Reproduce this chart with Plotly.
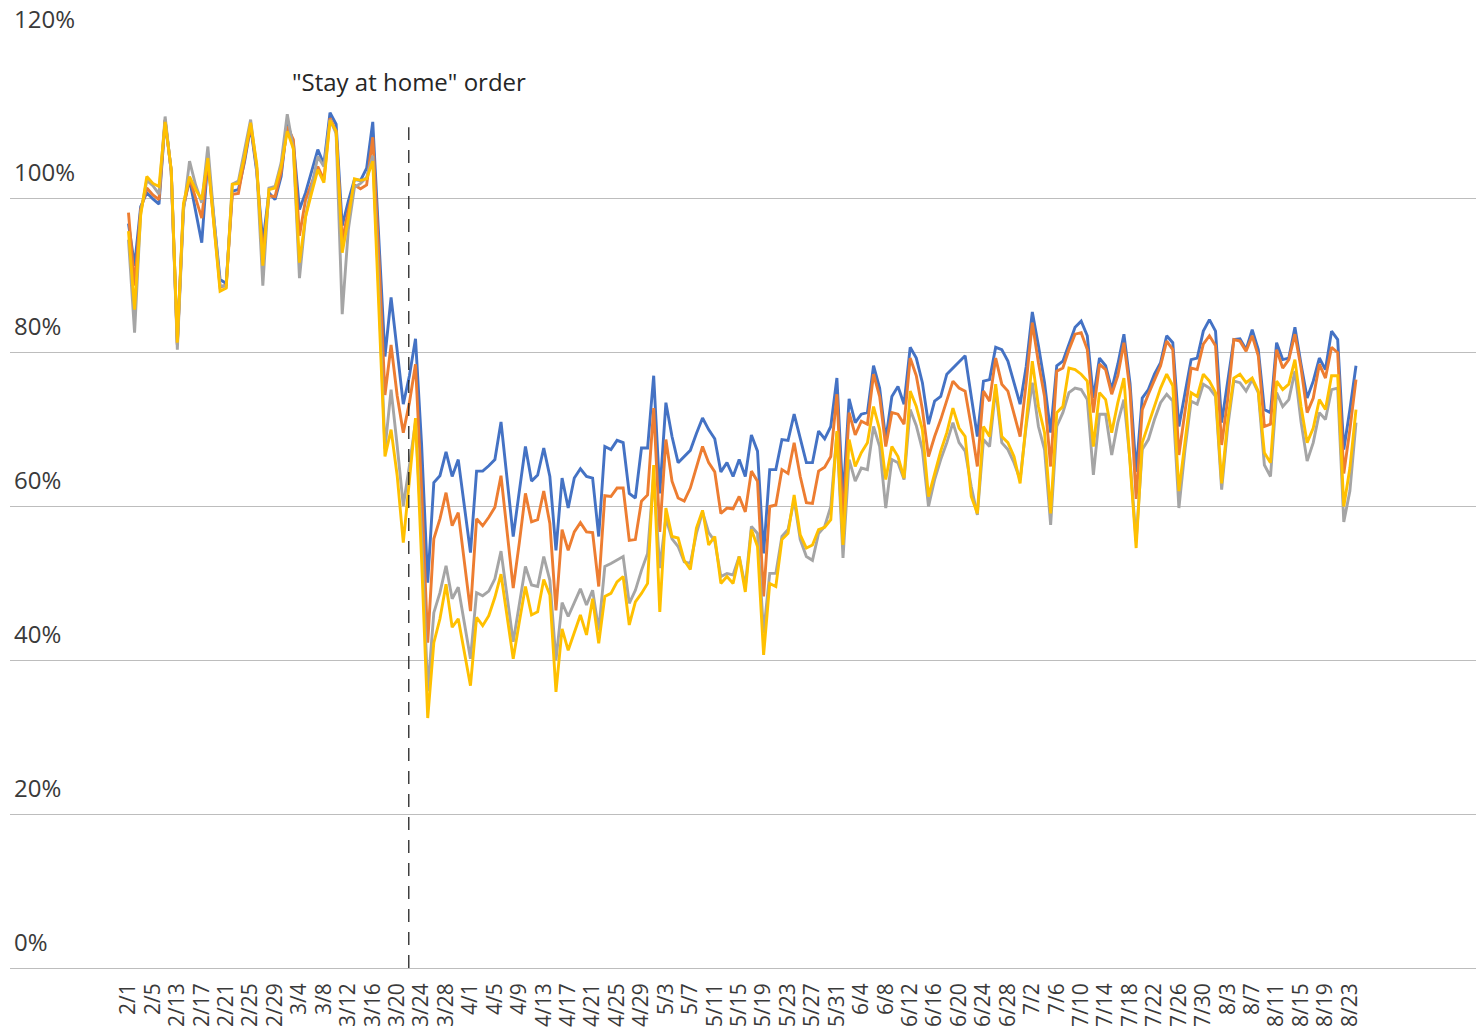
import pandas as pd
import plotly.graph_objects as go

# daily categories; the source has a gap between 2/5 and 2/10
DAYS = list(pd.date_range("2020-02-01", "2020-02-05")) + list(pd.date_range("2020-02-10", "2020-08-24"))
DATES = [f"{d.month}/{d.day}" for d in DAYS]
TICK_LABELS = DATES[::4]
Y_TICKS = [0, 20, 40, 60, 80, 100, 120]

ORDER_LABEL = '"Stay at home" order'
ORDER_POS = 45.9  # category index of the dashed marker

BLUE = [
    96.8, 91.3, 99.0, 100.8, 100.0, 99.3, 110.2, 103.6, 81.2, 99.0,
    102.5, 98.5, 94.3, 105.2, 97.5, 89.5, 89.0, 101.0, 101.2, 104.8,
    109.4, 103.5, 94.3, 100.8, 99.9, 102.9, 109.9, 107.3, 98.6, 100.8,
    103.6, 106.4, 104.5, 111.2, 109.7, 96.5, 99.7, 102.5, 102.4, 104.0,
    110.0, 95.5, 79.5, 87.2, 80.0, 73.3, 77.0, 81.8, 68.0, 50.1,
    63.1, 64.0, 67.1, 63.9, 66.1, 60.0, 54.0, 64.6, 64.6, 65.3,
    66.1, 71.0, 63.5, 56.1, 62.0, 67.8, 63.3, 64.1, 67.6, 63.9,
    54.3, 63.7, 59.8, 63.7, 64.9, 63.9, 63.7, 56.1, 67.8, 67.4,
    68.6, 68.3, 61.7, 61.1, 67.6, 67.6, 77.0, 61.7, 73.5, 69.1,
    65.7, 66.5, 67.3, 69.5, 71.5, 70.0, 68.8, 64.5, 65.7, 63.9,
    66.1, 63.9, 69.3, 67.2, 53.9, 64.8, 64.8, 68.7, 68.6, 72.0,
    68.7, 65.7, 65.7, 69.8, 68.8, 70.4, 76.7, 61.0, 74.0, 70.9,
    72.0, 72.2, 78.3, 75.4, 68.7, 74.3, 75.6, 73.3, 80.7, 79.3,
    76.1, 70.7, 73.7, 74.3, 77.2, 78.0, 78.7, 79.6, 74.3, 69.1,
    76.3, 76.5, 80.7, 80.4, 78.9, 76.1, 73.3, 78.2, 85.3, 80.9,
    76.1, 69.6, 78.3, 78.9, 81.1, 83.3, 84.1, 82.2, 74.1, 79.3,
    78.3, 75.2, 78.5, 82.4, 76.0, 64.5, 74.1, 75.2, 77.2, 78.7,
    82.2, 81.3, 70.4, 75.0, 79.1, 79.3, 82.8, 84.3, 82.8, 70.9,
    76.1, 81.7, 81.8, 80.4, 83.0, 80.4, 72.6, 72.2, 81.3, 79.1,
    79.3, 83.3, 78.5, 74.1, 76.3, 79.3, 77.8, 82.8, 81.7, 67.4,
    72.6, 78.3,
]

ORANGE = [
    98.2, 88.7, 98.6, 101.4, 100.5, 99.9, 110.3, 103.6, 81.0, 98.8,
    102.7, 100.0, 97.5, 105.0, 97.0, 88.5, 88.8, 100.6, 100.7, 105.0,
    109.6, 104.0, 92.6, 100.4, 100.3, 103.5, 109.4, 107.7, 95.2, 99.9,
    102.0, 104.2, 102.5, 110.5, 108.8, 94.5, 98.5, 101.8, 101.3, 101.8,
    108.0, 92.5, 74.5, 81.0, 74.4, 69.6, 73.5, 78.5, 62.0, 42.3,
    55.8, 58.4, 61.8, 57.5, 59.2, 53.0, 46.4, 58.4, 57.5, 58.6,
    59.9, 64.0, 57.0, 49.4, 55.3, 61.7, 58.0, 58.3, 62.0, 57.8,
    46.5, 57.0, 54.3, 56.7, 57.9, 56.7, 56.6, 49.6, 61.4, 61.3,
    62.4, 62.4, 55.6, 55.7, 60.7, 61.5, 72.8, 56.7, 68.7, 63.3,
    61.1, 60.7, 62.4, 65.0, 67.8, 65.7, 64.5, 59.1, 59.8, 59.7,
    61.3, 59.3, 64.6, 63.3, 48.3, 60.0, 60.2, 64.8, 64.3, 68.3,
    63.9, 60.5, 60.4, 64.6, 65.1, 66.5, 74.6, 58.0, 72.2, 69.3,
    71.1, 70.7, 77.2, 74.3, 67.8, 72.2, 72.0, 70.7, 79.3, 77.0,
    72.6, 66.5, 69.1, 71.3, 73.9, 76.3, 75.4, 75.0, 70.4, 65.2,
    75.0, 73.7, 79.3, 75.9, 75.0, 72.2, 69.1, 76.1, 83.9, 78.7,
    74.3, 65.2, 77.6, 78.0, 80.4, 82.4, 82.6, 80.4, 72.2, 78.5,
    77.8, 74.6, 77.0, 81.3, 75.0, 61.0, 72.6, 74.6, 76.5, 78.3,
    81.5, 80.4, 66.7, 72.6, 78.0, 77.8, 81.1, 82.2, 80.9, 68.0,
    74.0, 81.7, 81.5, 80.2, 82.2, 79.6, 70.4, 70.7, 80.4, 78.0,
    79.1, 82.4, 78.0, 72.2, 74.1, 78.5, 76.7, 80.7, 80.0, 64.3,
    70.0, 76.5,
]

GRAY = [
    94.7, 82.6, 98.2, 102.4, 101.7, 100.6, 110.7, 103.5, 80.4, 98.4,
    104.9, 101.8, 99.5, 106.8, 97.5, 88.7, 88.6, 101.9, 102.3, 106.3,
    110.3, 104.0, 88.7, 101.4, 101.6, 104.7, 111.0, 106.5, 89.7, 97.7,
    101.5, 105.5, 104.2, 110.3, 108.5, 85.0, 96.0, 101.5, 102.0, 102.8,
    105.6, 88.0, 67.5, 75.2, 67.9, 60.1, 65.3, 71.0, 56.2, 36.0,
    46.2, 48.8, 52.3, 48.0, 49.5, 45.0, 40.2, 48.8, 48.4, 49.0,
    50.6, 54.2, 48.0, 42.4, 47.3, 52.2, 49.8, 49.6, 53.5, 50.4,
    40.0, 47.5, 45.7, 47.4, 49.3, 47.2, 49.1, 43.9, 52.2, 52.6,
    53.0, 53.5, 47.4, 49.1, 51.7, 53.9, 64.0, 52.0, 58.5, 55.8,
    54.8, 52.8, 52.6, 56.5, 59.3, 56.6, 55.5, 50.9, 51.3, 51.1,
    53.5, 49.6, 57.4, 56.5, 43.5, 51.3, 51.3, 56.1, 57.0, 60.9,
    55.7, 53.5, 53.0, 56.5, 57.4, 60.0, 69.6, 53.3, 66.1, 63.3,
    65.0, 64.8, 70.4, 67.8, 59.8, 66.1, 65.7, 63.5, 72.6, 70.5,
    67.4, 60.0, 63.5, 66.1, 68.3, 70.9, 68.3, 67.2, 62.6, 58.9,
    68.7, 67.8, 75.4, 68.3, 67.4, 65.7, 63.5, 70.5, 76.1, 70.4,
    67.4, 57.6, 70.4, 72.2, 74.8, 75.4, 75.2, 73.9, 64.1, 72.0,
    72.0, 66.7, 70.9, 73.9, 66.0, 55.5, 67.4, 68.7, 71.3, 73.5,
    74.6, 73.7, 59.8, 67.4, 73.7, 73.3, 75.9, 75.4, 74.3, 62.2,
    70.4, 76.3, 76.1, 75.0, 76.5, 74.8, 65.4, 63.9, 74.8, 73.0,
    73.9, 77.6, 71.0, 65.9, 68.3, 72.2, 71.3, 75.2, 75.4, 58.0,
    62.0, 70.9,
]

YELLOW = [
    95.8, 85.6, 97.9, 102.9, 102.0, 101.6, 110.0, 103.8, 81.3, 99.4,
    102.9, 101.2, 99.9, 105.3, 96.5, 88.0, 88.4, 101.9, 102.0, 105.5,
    109.9, 104.5, 91.3, 101.2, 101.4, 104.2, 108.8, 106.5, 91.7, 97.7,
    100.8, 103.8, 102.1, 110.2, 108.8, 93.0, 97.4, 102.6, 102.4, 102.6,
    104.9, 86.0, 66.5, 70.0, 64.0, 55.3, 63.5, 71.5, 53.0, 32.5,
    42.3, 45.4, 49.9, 44.3, 45.4, 41.0, 36.7, 45.6, 44.5, 45.8,
    48.2, 51.2, 46.0, 40.2, 45.0, 49.6, 45.9, 46.3, 50.5, 48.5,
    35.9, 44.1, 41.3, 43.7, 45.9, 43.3, 48.0, 42.2, 48.3, 48.7,
    50.2, 50.9, 44.6, 47.6, 48.7, 50.0, 65.4, 46.3, 59.8, 56.1,
    55.9, 53.0, 51.8, 57.2, 59.5, 55.0, 56.1, 50.0, 50.9, 50.0,
    53.5, 48.9, 57.0, 54.8, 40.7, 50.0, 49.6, 55.7, 56.5, 61.5,
    56.3, 54.6, 55.0, 57.0, 57.3, 58.3, 69.8, 55.0, 68.7, 65.2,
    67.0, 68.3, 73.0, 70.0, 63.5, 67.8, 66.5, 63.7, 75.0, 73.0,
    70.0, 61.3, 64.1, 67.2, 69.6, 72.8, 70.2, 69.1, 61.3, 59.1,
    70.4, 69.1, 75.9, 69.1, 68.3, 66.5, 63.0, 71.3, 78.9, 73.0,
    69.6, 59.1, 72.2, 73.0, 78.0, 77.8, 77.2, 76.3, 67.8, 74.8,
    73.9, 69.6, 73.5, 76.7, 65.0, 54.6, 68.3, 70.7, 73.0, 75.4,
    77.2, 75.7, 62.0, 68.3, 74.8, 74.3, 77.2, 76.3, 74.8, 63.0,
    71.3, 76.7, 77.2, 76.1, 76.7, 75.0, 67.0, 65.7, 76.3, 75.2,
    75.9, 79.1, 73.0, 68.3, 70.2, 73.9, 72.6, 77.0, 77.0, 60.0,
    65.0, 72.6,
]

SERIES = [("Series 1", BLUE), ("Series 2", ORANGE), ("Series 3", GRAY), ("Series 4", YELLOW)]
COLORS = ["#4472C4", "#ED7D31", "#A5A5A5", "#FFC000"]

FONT = "Open Sans"
TEXT_COLOR = "#3a3a3a"
GRID_COLOR = "#BDBDBD"

fig = go.Figure()
for (name, vals), col in zip(SERIES, COLORS):
    fig.add_trace(go.Scatter(x=DATES, y=vals, mode="lines", name=name,
                             line=dict(color=col, width=2.9)))

# dashed marker for the order date
fig.add_shape(type="line", xref="x", yref="y", x0=ORDER_POS, x1=ORDER_POS, y0=0, y1=109.3,
              line=dict(color="#222222", width=1.3, dash="13px,10px"))
fig.add_annotation(x=26.4, y=115.2, xref="x", yref="y", text=ORDER_LABEL, showarrow=False,
                   xanchor="left", yanchor="middle", font=dict(family=FONT, size=24, color="#262626"))

# y labels sit above their gridlines, at the left edge
for v in Y_TICKS:
    fig.add_annotation(x=0, y=v, xref="paper", yref="y", text=f"{v}%", showarrow=False,
                       xanchor="left", yanchor="middle", xshift=2, yshift=27,
                       font=dict(family=FONT, size=24, color=TEXT_COLOR))

fig.update_layout(
    width=1476, height=1030,
    margin=dict(l=10, r=0, t=45, b=62),
    paper_bgcolor="white", plot_bgcolor="white",
    showlegend=False,
    font=dict(family=FONT, color=TEXT_COLOR),
)
fig.update_xaxes(type="category", range=[-19.4, 220.65], tickmode="array",
                 tickvals=TICK_LABELS, ticktext=TICK_LABELS, tickangle=-90,
                 tickfont=dict(family=FONT, size=21, color=TEXT_COLOR),
                 ticklabelstandoff=10,
                 showgrid=False, showline=False, zeroline=False, ticks="")
fig.update_yaxes(range=[0, 120], tickvals=Y_TICKS, showticklabels=False,
                 showgrid=True, gridcolor=GRID_COLOR, gridwidth=1,
                 zeroline=True, zerolinecolor=GRID_COLOR, zerolinewidth=1, showline=False)

fig.write_html("out.html", config={"displayModeBar": False},
               post_script="document.body.style.margin='0';")
